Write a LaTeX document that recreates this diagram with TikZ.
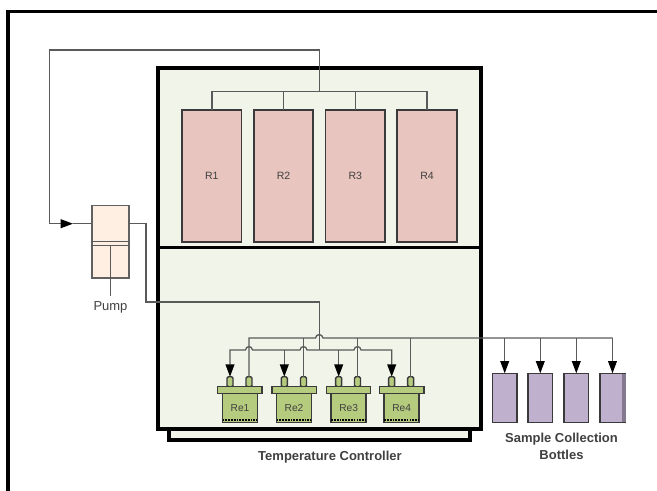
\documentclass[tikz,border=0pt]{standalone}
\usepackage{fontspec}
\setmainfont{Liberation Sans}
\usetikzlibrary{arrows.meta}
\definecolor{mainfill}{HTML}{F1F4E9}
\definecolor{reactfill}{HTML}{E8C5BE}
\definecolor{pumpfill}{HTML}{FEEFE2}
\definecolor{vesselfill}{HTML}{B5CB7E}
\definecolor{bottlefill}{HTML}{BFB0CE}
\definecolor{bottleband}{HTML}{85798F}
\definecolor{pipecolor}{HTML}{5A5A5A}
\definecolor{edgecolor}{HTML}{3A3A3A}
\definecolor{labelcolor}{HTML}{404040}

\begin{document}
\begin{tikzpicture}[
  x=0.02cm, y=-0.02cm,
  every node/.style={outer sep=0pt, inner sep=0pt},
  frame/.style={draw=black, line width=2pt},
  mainbox/.style={draw=black, line width=2.2pt, fill=mainfill, minimum width=6.454cm, minimum height=7.214cm},
  traybox/.style={draw=black, line width=1.8pt, fill=mainfill, minimum width=6.02cm, minimum height=0.4cm},
  divider/.style={draw=black, line width=1.6pt},
  reactor/.style={draw=edgecolor, line width=0.9pt, fill=reactfill, minimum width=1.19cm, minimum height=2.64cm, font=\fontsize{6}{7}\selectfont, text=labelcolor},
  pumpbox/.style={draw=edgecolor!80, line width=0.9pt, fill=pumpfill, minimum width=0.73cm, minimum height=1.45cm},
  vessel/.style={draw=edgecolor, line width=0.9pt, fill=vesselfill, minimum width=0.7cm, minimum height=0.58cm, font=\fontsize{5.8}{7}\selectfont, text=labelcolor},
  flange/.style={draw=edgecolor, line width=0.8pt, fill=vesselfill, minimum width=0.89cm, minimum height=0.13cm},
  port/.style={draw=edgecolor, line width=0.8pt, fill=vesselfill, rounded corners=0.8pt, minimum width=0.12cm, minimum height=0.2cm},
  bottle/.style={draw=edgecolor, line width=0.9pt, fill=bottlefill, minimum width=0.495cm, minimum height=0.98cm},
  pipe/.style={draw=pipecolor, line width=0.75pt},
  arrow/.style={pipe, -{Triangle[length=7pt, width=5pt, fill=black, color=black]}},
  liquid/.style={draw=black, line width=0.8pt, dash pattern=on 1pt off 0.6pt},
  caption/.style={font=\fontsize{7.4}{9}\selectfont\bfseries, text=labelcolor, align=center},
  smalltext/.style={font=\fontsize{7.4}{9}\selectfont, text=labelcolor}
]
  \useasboundingbox (0,0) rectangle (657,491);

  % frame round the page, left and top only
  \coordinate (framebot) at (8,491);
  \coordinate (frameend) at (657,11.7);
  \draw[frame] (framebot) |- (frameend);

  % temperature controller
  \node[traybox] (tray) at (319.5,430) {};
  \node[mainbox] (main) at (319.35,248.35) {};
  \coordinate (divleft) at (158,247.7);
  \coordinate (divright) at (480.7,247.7);
  \draw[divider] (divleft) -- (divright);

  % reactors
  \node[reactor] (r1) at (211.85,176) {R1};
  \node[reactor] (r2) at (283.5,176) {R2};
  \node[reactor] (r3) at (355.25,176) {R3};
  \node[reactor] (r4) at (427,176) {R4};

  % pump
  \node[pumpbox] (pump) at (110.5,241.85) {};
  \coordinate (pumpin) at (92.3,223.7);
  \coordinate (pumpout) at (128.7,223.7);
  \coordinate (pistontop) at (92.3,241.7);
  \coordinate (pistonbot) at (92.3,245.7);
  \coordinate (rodend) at (110.5,296);
  \draw[pipe, line width=0.9pt] (pistontop) -- (pistontop -| pump.east);
  \draw[pipe, line width=0.9pt] (pistonbot) -- (pistonbot -| pump.east);
  \draw[pipe] (pistonbot -| rodend) -- (rodend);
  \node[smalltext] (pumplabel) at (110.5,307.5) {Pump};

  % receivers
  \node[port] (p1a) at (230,381.7) {};
  \node[port] (p1b) at (249,381.7) {};
  \node[port] (p2a) at (284.3,381.7) {};
  \node[port] (p2b) at (303.5,381.7) {};
  \node[port] (p3a) at (338.7,381.7) {};
  \node[port] (p3b) at (357.5,381.7) {};
  \node[port] (p4a) at (391.7,381.7) {};
  \node[port] (p4b) at (410.7,381.7) {};
  \node[vessel] (re1) at (240,407.8) {Re1};
  \node[vessel] (re2) at (294,407.8) {Re2};
  \node[vessel] (re3) at (348.7,407.8) {Re3};
  \node[vessel] (re4) at (401.7,407.8) {Re4};
  \node[flange] (f1) at (239.8,390) {};
  \node[flange] (f2) at (294.3,390) {};
  \node[flange] (f3) at (348.5,390) {};
  \node[flange] (f4) at (401.7,390) {};
  \draw[liquid] ([yshift=1.2pt]re1.south west) -- ([yshift=1.2pt]re1.south east);
  \draw[liquid] ([yshift=1.2pt]re2.south west) -- ([yshift=1.2pt]re2.south east);
  \draw[liquid] ([yshift=1.2pt]re3.south west) -- ([yshift=1.2pt]re3.south east);
  \draw[liquid] ([yshift=1.2pt]re4.south west) -- ([yshift=1.2pt]re4.south east);

  % sample bottles
  \node[bottle] (b1) at (504.7,397.8) {};
  \node[bottle] (b2) at (540.3,397.8) {};
  \node[bottle] (b3) at (576.3,397.8) {};
  \node[bottle] (b4) at (612.5,397.8) {};
  \fill[bottleband] ([xshift=-1.6pt,yshift=-0.45pt]b4.north east) rectangle ([xshift=0.45pt,yshift=0.45pt]b4.south east);

  % feed line to the reactors and round to the pump
  \coordinate (rbus) at (319.5,91.7);
  \draw[pipe] (r1.north) |- (rbus);
  \draw[pipe] (r4.north) |- (rbus);
  \draw[pipe] (r2.north) -- (r2.north |- rbus);
  \draw[pipe] (r3.north) -- (r3.north |- rbus);
  \coordinate (pumpmark) at (73,223.7);
  \draw[arrow] (rbus) -- (319.5,50) -| (49.5,223.7) -- (pumpmark);
  \draw[pipe] (pumpmark) -- (pumpin);

  % pump to the receivers
  \coordinate (feed) at (319.3,350);
  \draw[pipe] (pumpout) -| (146,302) -| (feed);
  \draw[arrow] (feed) -- (307,350) .. controls (306.5,345.5) and (300.5,345.5) .. (300,350)
    -- (252.5,350) .. controls (252,345.5) and (246,345.5) .. (245.5,350) -| (p1a.north);
  \draw[arrow] (feed) -- (354,350) .. controls (354.5,345.5) and (360.5,345.5) .. (361,350) -| (p4a.north);
  \draw[arrow] (p2a.north |- feed) -- (p2a.north);
  \draw[arrow] (p3a.north |- feed) -- (p3a.north);

  % return line to the bottles
  \coordinate (outbus) at (612.5,338);
  \draw[pipe] (p1b.north) |- (315.5,338) .. controls (316,333.5) and (322.5,333.5) .. (323,338) -- (outbus);
  \draw[pipe] (p2b.north) -- (p2b.north |- outbus);
  \draw[pipe] (p3b.north) -- (p3b.north |- outbus);
  \draw[pipe] (p4b.north) -- (p4b.north |- outbus);
  \draw[arrow] (b1.north |- outbus) -- (b1.north);
  \draw[arrow] (b2.north |- outbus) -- (b2.north);
  \draw[arrow] (b3.north |- outbus) -- (b3.north);
  \draw[arrow] (outbus) -- (b4.north);

  \node[caption] (tclabel) at (330,457.5) {Temperature Controller};
  \node[caption] (bottlelabel) at (561.5,446) {Sample Collection\\[0.6pt]Bottles};
\end{tikzpicture}
\end{document}
